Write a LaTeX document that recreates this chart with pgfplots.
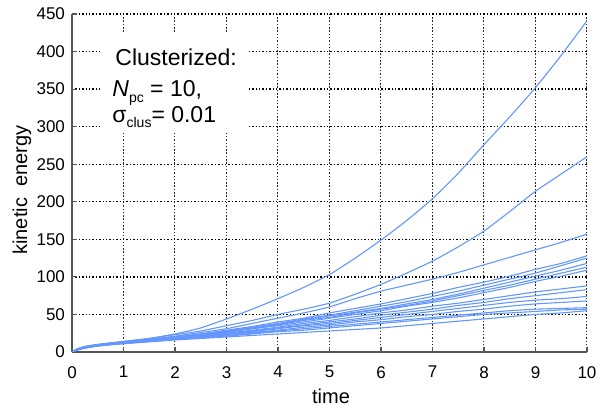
\documentclass[border=0pt]{standalone}
\usepackage{fontspec}
\setmainfont{Liberation Sans}
\usepackage{pgfplots}
\usepackage{pgfplotstable}
\pgfplotsset{compat=1.18}
\definecolor{ln}{RGB}{100,150,255}
\definecolor{axc}{RGB}{85,85,85}

\pgfplotstableread{
t    A    B    C    D    E    F    G    H    I    J    K    L    M    N    O
0    0    0    0    0    0    0    0    0    0    0    0    0    0    0    0
0.1  4    4    3.5  3.5  3.5  3    3.5  3    3    3    3    3    3    2.5  2.5
0.25 7.5  7    7    6.5  6.5  6.5  6.5  6    6    6    6    5.5  5.5  5.5  5
0.5  10   10   9.5  9.5  9    9    9.5  9    9    8.5  8.5  8.5  8    8    8
0.75 12   12   11.5 11.5 11   11   11.5 11   11   10.5 10.5 10.5 10   10   9.5
1    14   14   13.5 13   13   12.5 13   12.5 12.5 12   12   12   11.5 11.5 11
1.5  18   18   17   16.5 16   16   16   15.5 15.5 15   15   14.5 14.5 14   13.5
2    24   23   21   20   20   19.5 19   19   18.5 18   18   17.5 17   16.5 16
2.5  32   28   26   24   24   23   23   22   22   21   21   20   20   19   18
3    44   35   31   29   28   27   27   26   25   24   24   23   22   21   20
3.5  57   42   38   34   33   32   31   31   29   28   27   26   25   24   22
4    71   50   45   40   38   37   36   35   33   32   31   29   28   27   24
4.5  86   57   52   45   44   43   42   40   38   36   35   33   31   29   26
5    103  65   60   52   49   48   46   45   42   40   38   36   34   32   28
5.5  125  77   71   58   55   53   52   50   47   44   42   40   37   35   30
6    149  90   81   64   61   58   57   55   52   49   46   43   40   38   32
6.5  175  105  89   71   67   64   62   61   56   53   50   47   43   41   35
7    204  121  97   78   74   70   68   66   61   57   54   50   46   44   38
7.5  238  140  106  86   81   77   75   72   65   62   58   54   49   47   41
8    276  161  116  93   89   85   82   79   70   66   62   57   52   50   44
8.5  313  187  126  101  97   93   89   86   75   71   66   61   55   52   47
9    352  214  136  110  105  101  97   94   80   75   69   64   57   54   50
9.5  395  237  146  118  115  109  105  101  84   79   71   66   58   56   52
10   441  260  157  128  125  118  113  109  88   83   74   68   59   57   55
}\data

\begin{document}
\begin{tikzpicture}
\begin{axis}[
  scale only axis, width=257.5pt, height=169pt,
  xmin=0, xmax=10, ymin=0, ymax=450,
  axis x line*=bottom, axis y line*=left,
  axis line style={axc, line width=1pt},
  xtick={0,1,...,10}, ytick={0,50,...,450},
  tick align=inside, major tick length=2.5pt,
  tick style={axc, line width=0.6pt},
  grid=major,
  x grid style={black!85, line width=0.5pt, dash pattern=on 0.75pt off 0.9pt},
  y grid style={black, line width=0.7pt, dash pattern=on 0.7pt off 1pt},
  /pgf/number format/assume math mode=true,
  tick label style={font=\fontsize{8.5}{10}\selectfont},
  x tick label style={yshift=-3.6pt},
  xlabel={time}, ylabel={kinetic\ \ energy},
  label style={font=\fontsize{9.5}{11}\selectfont},
  every axis y label/.style={at={(axis description cs:-0.097,0.479)}, rotate=90, anchor=center},
  every axis x label/.style={at={(axis description cs:0.503,-0.151)}, anchor=base},
]
\foreach \c in {A,B,C,D,E,F,G,H,I,J,K,L,M,N,O} {
  \addplot[ln, line width=0.55pt, no marks, solid, smooth, tension=0.3] table[x=t, y=\c] {\data};
}
\fill[white] (axis cs:0.55,292) rectangle (axis cs:3.4,425);
\node[anchor=base west, inner sep=0, font=\fontsize{11.5}{13}\selectfont] at (axis cs:0.835,381) {Clusterized:};
\node[anchor=base west, inner sep=0, font=\fontsize{11.5}{13}\selectfont] at (axis cs:0.777,339.5) {\textit{N}\raisebox{-0.22em}{\fontsize{7}{8}\selectfont pc} = 10,};
\node[anchor=base west, inner sep=0, font=\fontsize{11.5}{13}\selectfont] at (axis cs:0.777,305) {σ\raisebox{-0.22em}{\fontsize{7}{8}\selectfont clus}= 0.01};
\end{axis}
\pgfresetboundingbox
\path ([shift={(-36pt,-28.5pt)}]current axis.south west) rectangle ([shift={(4.5pt,7pt)}]current axis.north east);
\end{tikzpicture}
\end{document}
